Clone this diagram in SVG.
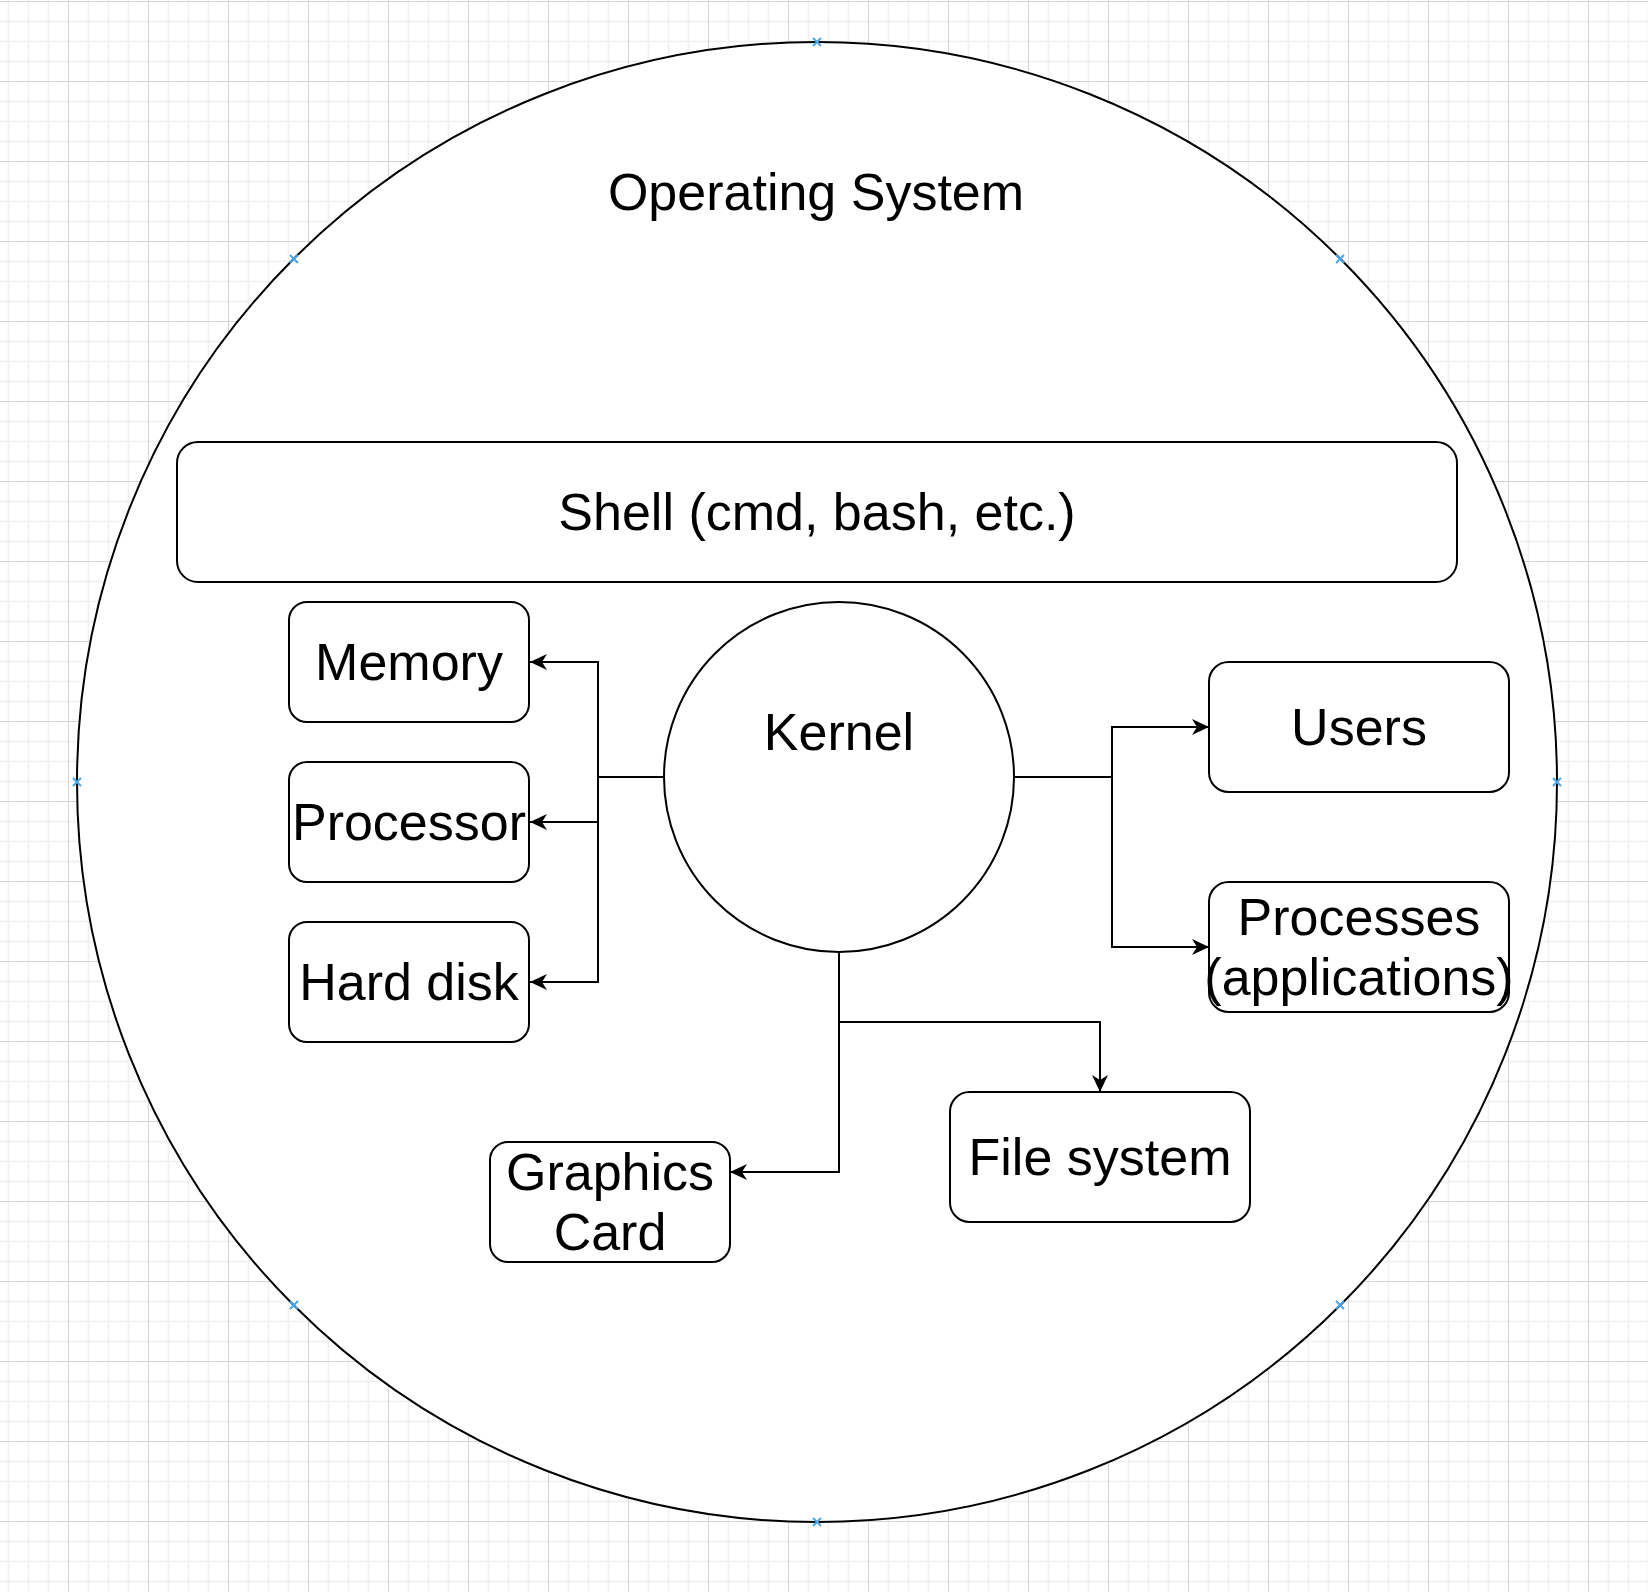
<svg xmlns="http://www.w3.org/2000/svg" width="1648" height="1592" viewBox="0 0 1648 1592">
  <style>
    .shape { fill: #ffffff; stroke: #000000; stroke-width: 2; }
    .lbl { font-family: "Liberation Sans", Arial, Helvetica, sans-serif; font-size: 52px; fill: #000000; text-anchor: middle; }
    .edge { fill: none; stroke: #000000; stroke-width: 2; marker-end: url(#arrow); }
    .mark { stroke: #4ba6e8; stroke-width: 2; fill: none; }
  </style>
  <defs>
    <pattern id="grid" x="68" y="1" width="80" height="80" patternUnits="userSpaceOnUse">
      <path d="M20.5,0 V80 M40.5,0 V80 M60.5,0 V80 M0,20.5 H80 M0,40.5 H80 M0,60.5 H80" stroke="#f0f0f0" stroke-width="1.5" fill="none"/>
      <path d="M0.5,0 V80 M0,0.5 H80" stroke="#d4d4d4" stroke-width="1" fill="none"/>
    </pattern>
    <marker id="arrow" markerUnits="userSpaceOnUse" markerWidth="40" markerHeight="40" refX="0" refY="0" viewBox="-20 -20 40 40" orient="auto" overflow="visible">
      <path d="M0,0 L-17,-8 L-12,0 L-17,8 Z" fill="#000000" stroke="none"/>
    </marker>
  </defs>

  <rect x="0" y="0" width="1648" height="1592" fill="#ffffff"/>
  <rect x="0" y="0" width="1648" height="1592" fill="url(#grid)"/>

  <g id="os">
    <circle class="shape" cx="817" cy="782" r="740" stroke-width="1.6"/>
    <text class="lbl" x="816" y="210">Operating System</text>
  </g>

  <g id="os-markers">
    <path class="mark" d="M813,38 l8,8 m0,-8 l-8,8"/>
    <path class="mark" d="M813,1518 l8,8 m0,-8 l-8,8"/>
    <path class="mark" d="M73,778 l8,8 m0,-8 l-8,8"/>
    <path class="mark" d="M1553,778 l8,8 m0,-8 l-8,8"/>
    <path class="mark" d="M290,255 l8,8 m0,-8 l-8,8"/>
    <path class="mark" d="M1336,255 l8,8 m0,-8 l-8,8"/>
    <path class="mark" d="M290,1301 l8,8 m0,-8 l-8,8"/>
    <path class="mark" d="M1336,1301 l8,8 m0,-8 l-8,8"/>
  </g>

  <g id="shell">
    <rect class="shape" x="177" y="442" width="1280" height="140" rx="21" ry="21"/>
    <text class="lbl" x="817" y="530">Shell (cmd, bash, etc.)</text>
  </g>

  <g id="connectors">
    <path class="edge" d="M664,777 H598 V662 H530"/>
    <path class="edge" d="M664,777 H598 V822 H530"/>
    <path class="edge" d="M664,777 H598 V982 H530"/>
    <path class="edge" d="M1014,777 H1112 V727 H1209"/>
    <path class="edge" d="M1014,777 H1112 V947 H1209"/>
    <path class="edge" d="M839,952 V1172 H730"/>
    <path class="edge" d="M839,952 V1022 H1100 V1092"/>
  </g>

  <g id="kernel">
    <circle class="shape" cx="839" cy="777" r="175"/>
    <text class="lbl" x="839" y="750">Kernel</text>
  </g>

  <g id="memory">
    <rect class="shape" x="289" y="602" width="240" height="120" rx="18" ry="18"/>
    <text class="lbl" x="409" y="680">Memory</text>
  </g>

  <g id="processor">
    <rect class="shape" x="289" y="762" width="240" height="120" rx="18" ry="18"/>
    <text class="lbl" x="409" y="840">Processor</text>
  </g>

  <g id="hard-disk">
    <rect class="shape" x="289" y="922" width="240" height="120" rx="18" ry="18"/>
    <text class="lbl" x="409" y="1000">Hard disk</text>
  </g>

  <g id="users">
    <rect class="shape" x="1209" y="662" width="300" height="130" rx="19.5" ry="19.5"/>
    <text class="lbl" x="1359" y="745">Users</text>
  </g>

  <g id="processes">
    <rect class="shape" x="1209" y="882" width="300" height="130" rx="19.5" ry="19.5"/>
    <text class="lbl" x="1359" y="935">Processes</text>
    <text class="lbl" x="1359" y="995">(applications)</text>
  </g>

  <g id="graphics-card">
    <rect class="shape" x="490" y="1142" width="240" height="120" rx="18" ry="18"/>
    <text class="lbl" x="610" y="1190">Graphics</text>
    <text class="lbl" x="610" y="1250">Card</text>
  </g>

  <g id="file-system">
    <rect class="shape" x="950" y="1092" width="300" height="130" rx="19.5" ry="19.5"/>
    <text class="lbl" x="1100" y="1175">File system</text>
  </g>
</svg>
